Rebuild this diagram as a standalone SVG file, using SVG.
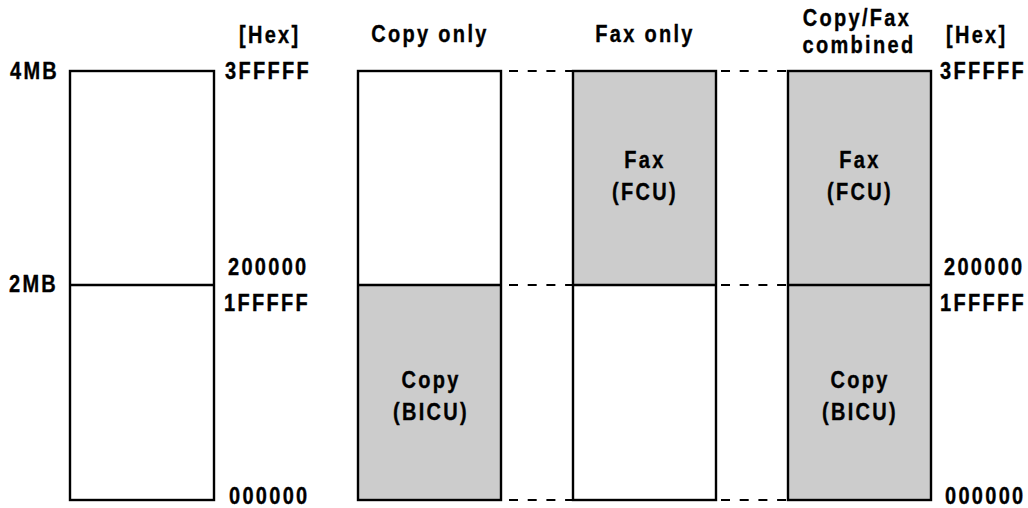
<svg xmlns="http://www.w3.org/2000/svg" width="1028" height="508" viewBox="0 0 1028 508">
<style>
.t{font-family:"Liberation Sans",Arial,sans-serif;font-weight:bold;font-size:20px;letter-spacing:2.3px;fill:#000;stroke:#000;stroke-width:0.3px}
.m{text-anchor:middle}
.box{stroke:#000;stroke-width:2.4;fill:none}
.g{fill:#cccccc}
.w{fill:#fff}
.dash{stroke:#000;stroke-width:2;stroke-dasharray:9 9.7;fill:none}
.div{stroke:#000;stroke-width:2.4}
</style>
<rect width="1028" height="508" fill="#fff"/>
<g id="headers">
<text class="t" transform="translate(239,43) scale(1,1.18)">[Hex]</text>
<text class="t m" transform="translate(430,42) scale(1,1.18)">Copy only</text>
<text class="t m" transform="translate(645,42) scale(1,1.18)">Fax only</text>
<text class="t m" transform="translate(857,26) scale(1,1.18)">Copy/Fax</text>
<text class="t m" transform="translate(859,53) scale(1,1.18)">combined</text>
<text class="t" transform="translate(946,43) scale(1,1.18)">[Hex]</text>
</g>
<g id="left-scale">
<text class="t" transform="translate(10,79) scale(1,1.18)">4MB</text>
<text class="t" transform="translate(9,292) scale(1,1.18)">2MB</text>
<text class="t" transform="translate(225,79) scale(1,1.18)">3FFFFF</text>
<text class="t" transform="translate(228,275) scale(1,1.18)">200000</text>
<text class="t" transform="translate(224,311) scale(1,1.18)">1FFFFF</text>
<text class="t" transform="translate(229,504) scale(1,1.18)">000000</text>
</g>
<g id="right-scale">
<text class="t" transform="translate(940,79) scale(1,1.18)">3FFFFF</text>
<text class="t" transform="translate(944,275) scale(1,1.18)">200000</text>
<text class="t" transform="translate(940,311) scale(1,1.18)">1FFFFF</text>
<text class="t" transform="translate(945,504) scale(1,1.18)">000000</text>
</g>
<g id="map-address">
<rect class="w" x="70" y="71" width="144" height="429"/>
<rect class="box" x="70" y="71" width="144" height="429"/>
<line class="div" x1="70" y1="285" x2="214" y2="285"/>
</g>
<g id="map-copy-only">
<rect class="w" x="358" y="71" width="143" height="214"/>
<rect class="g" x="358" y="285" width="143" height="215"/>
<rect class="box" x="358" y="71" width="143" height="429"/>
<line class="div" x1="358" y1="285" x2="501" y2="285"/>
<text class="t m" transform="translate(431,388) scale(1,1.18)">Copy</text>
<text class="t m" transform="translate(431,420) scale(1,1.18)">(BICU)</text>
</g>
<g id="map-fax-only">
<rect class="g" x="573" y="71" width="143" height="214"/>
<rect class="w" x="573" y="285" width="143" height="215"/>
<rect class="box" x="573" y="71" width="143" height="429"/>
<line class="div" x1="573" y1="285" x2="716" y2="285"/>
<text class="t m" transform="translate(645,168) scale(1,1.18)">Fax</text>
<text class="t m" transform="translate(645,200) scale(1,1.18)">(FCU)</text>
</g>
<g id="map-combined">
<rect class="g" x="788" y="71" width="143" height="429"/>
<rect class="box" x="788" y="71" width="143" height="429"/>
<line class="div" x1="788" y1="285" x2="931" y2="285"/>
<text class="t m" transform="translate(860,168) scale(1,1.18)">Fax</text>
<text class="t m" transform="translate(860,200) scale(1,1.18)">(FCU)</text>
<text class="t m" transform="translate(860,388) scale(1,1.18)">Copy</text>
<text class="t m" transform="translate(860,420) scale(1,1.18)">(BICU)</text>
</g>
<g id="connectors">
<line class="dash" x1="509" y1="71" x2="573" y2="71"/>
<line class="dash" x1="509" y1="285" x2="573" y2="285"/>
<line class="dash" x1="509" y1="500" x2="573" y2="500"/>
<line class="dash" x1="721" y1="71" x2="788" y2="71"/>
<line class="dash" x1="721" y1="285" x2="788" y2="285"/>
<line class="dash" x1="721" y1="500" x2="788" y2="500"/>
</g>
</svg>
